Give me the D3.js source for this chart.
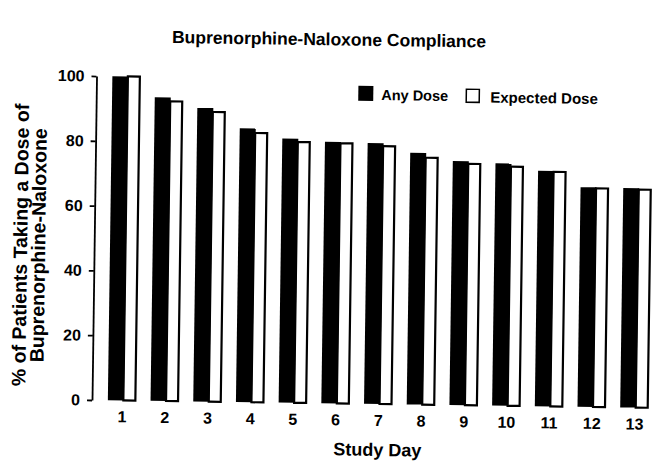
<!DOCTYPE html>
<html lang="en">
<meta charset="utf-8">
<head>
    <title>Buprenorphine-Naloxone Compliance</title>
    <script src="https://d3js.org/d3.v7.min.js"></script>
    <style>
        body { margin: 0; background: #fff; }
        text { font-family: "Liberation Sans", Arial, sans-serif; font-weight: bold; fill: #000; }
    </style>
</head>
<body>
<div id="chart"></div>
<script>
    // values
    let studyDays = ["1", "2", "3", "4", "5", "6", "7", "8", "9", "10", "11", "12", "13"];
    let anyDose = [100, 93.7, 90.6, 84.5, 81.5, 80.7, 80.5, 77.7, 75.3, 74.8, 72.7, 67.8, 67.7];
    let expectedDose = [100, 92.5, 89.4, 83.1, 80.5, 80.3, 79.6, 76.2, 74.5, 73.8, 72.4, 67.5, 67.3];
    let yTicks = [0, 20, 40, 60, 80, 100];
    let seriesNames = ["Any Dose", "Expected Dose"];

    let W = 663, H = 469;
    let x0 = 92, yTop = 76, yBot = 400;

    let svg = d3.select("#chart").append("svg")
        .attr("width", W)
        .attr("height", H);

    // the scan is tilted a little clockwise
    let g = svg.append("g")
        .attr("transform", "rotate(0.8," + x0 + "," + yBot + ")");

    let xScale = d3.scaleBand()
        .domain(studyDays)
        .range([101, 101 + 42.7 * studyDays.length]);

    let yScale = d3.scaleLinear()
        .domain([0, 100])
        .range([yBot, yTop]);

    let center = d => xScale(d) + xScale.step() / 2;

    // title
    g.append("text")
        .attr("x", 324)
        .attr("y", 42)
        .attr("text-anchor", "middle")
        .style("font-size", "17.5px")
        .text("Buprenorphine-Naloxone Compliance");

    // y axis
    let yAxis = d3.axisLeft(yScale)
        .tickValues(yTicks)
        .tickSize(5)
        .tickSizeOuter(0)
        .tickPadding(7);

    let ya = g.append("g")
        .attr("transform", "translate(" + x0 + ",0)")
        .call(yAxis);
    ya.select(".domain").attr("stroke-width", 1.8);
    ya.selectAll(".tick line").attr("stroke-width", 1.8);
    ya.selectAll(".tick text")
        .style("font-size", "16px")
        .style("font-family", "'Liberation Sans', Arial, sans-serif")
        .style("font-weight", "bold");

    // y label (two lines)
    let yLab = g.append("text")
        .attr("transform", "translate(25," + 246 + ") rotate(-90)")
        .attr("text-anchor", "middle")
        .style("font-size", "19.5px");
    yLab.append("tspan").attr("x", 0).attr("y", 0).text("% of Patients Taking a Dose of");
    yLab.append("tspan").attr("x", 0).attr("y", 18).text("Buprenorphine-Naloxone");

    // bars: white (expected) drawn first, black (any) overlaps its left edge
    g.selectAll(".bar-exp")
        .data(studyDays)
        .enter().append("rect")
        .attr("class", "bar-exp")
        .attr("x", d => center(d) + 1)
        .attr("y", (d, i) => yScale(expectedDose[i]))
        .attr("width", 12)
        .attr("height", (d, i) => yBot - yScale(expectedDose[i]))
        .attr("fill", "#fff")
        .attr("stroke", "#000")
        .attr("stroke-width", 2.2);

    g.selectAll(".bar-any")
        .data(studyDays)
        .enter().append("rect")
        .attr("class", "bar-any")
        .attr("x", d => center(d) - 14.5)
        .attr("y", (d, i) => yScale(anyDose[i]))
        .attr("width", 16)
        .attr("height", (d, i) => yBot - yScale(anyDose[i]))
        .attr("fill", "#000");

    // x tick labels
    g.selectAll(".xlab")
        .data(studyDays)
        .enter().append("text")
        .attr("class", "xlab")
        .attr("x", d => center(d))
        .attr("y", 422)
        .attr("text-anchor", "middle")
        .style("font-size", "16px")
        .text(d => d);

    g.append("text")
        .attr("x", 378)
        .attr("y", 452)
        .attr("text-anchor", "middle")
        .style("font-size", "18px")
        .text("Study Day");

    // legend
    let legend = g.append("g");
    legend.append("rect")
        .attr("x", 354).attr("y", 82)
        .attr("width", 15).attr("height", 15)
        .attr("fill", "#000");
    legend.append("text")
        .attr("x", 377).attr("y", 96)
        .style("font-size", "14.5px")
        .text(seriesNames[0]);
    legend.append("rect")
        .attr("x", 462).attr("y", 84)
        .attr("width", 13).attr("height", 13)
        .attr("fill", "#fff")
        .attr("stroke", "#000")
        .attr("stroke-width", 1.5);
    legend.append("text")
        .attr("x", 486).attr("y", 97)
        .style("font-size", "15px")
        .text(seriesNames[1]);
</script>
</body>
</html>
